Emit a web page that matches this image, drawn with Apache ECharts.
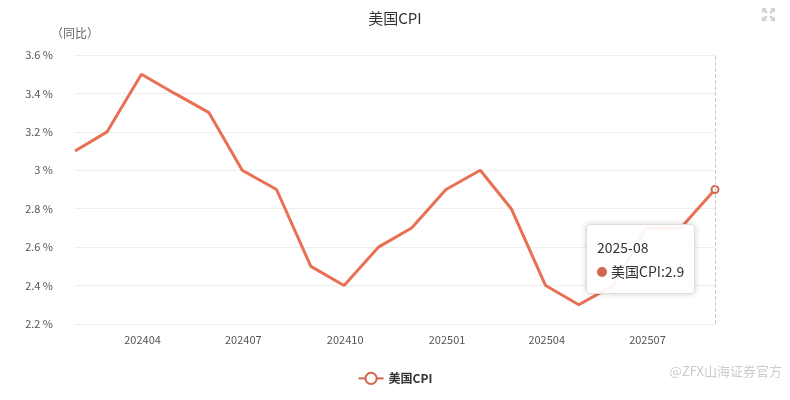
<!DOCTYPE html>
<html>
<head>
<meta charset="utf-8">
<script src="https://cdn.jsdelivr.net/npm/echarts@6/dist/echarts.min.js"></script>
<style>html,body{margin:0;padding:0;background:#fff;}#c{width:790px;height:400px;}</style>
</head>
<body>
<div id="c"></div>
<script>
var months = ['2024-01','2024-02','2024-03','2024-04','2024-05','2024-06','2024-07','2024-08','2024-09','2024-10','2024-11','2024-12','2025-01','2025-02','2025-03','2025-04','2025-05','2025-06','2025-07','2025-08'];
var cpiValues = [3.1,3.2,3.5,3.4,3.3,3.0,2.9,2.5,2.4,2.6,2.7,2.9,3.0,2.8,2.4,2.3,2.4,2.7,2.7,2.9];
var seriesName = '美国CPI';
var yTicks = {min: 2.2, max: 3.6, interval: 0.2};

function monthEnd(m) {
  var p = m.split('-');
  var d = new Date(+p[0], +p[1], 0);
  return p[0] + '-' + p[1] + '-' + String(d.getDate()).padStart(2, '0');
}
var seriesData = months.map(function (m, i) { return [monthEnd(m), cpiValues[i]]; });
function pad(n) { return String(n).padStart(2, '0'); }

var FONT = '"Noto Sans CJK SC", "Noto Sans", sans-serif';
var LINE = '#d3664e';
var chart = echarts.init(document.getElementById('c'), null, {renderer: 'canvas'});
chart.setOption({
  animation: false,
  textStyle: {fontFamily: FONT},
  title: {
    text: '美国CPI', left: 'center', top: 6,
    textStyle: {fontSize: 15, fontWeight: 'normal', color: '#333', fontFamily: FONT}
  },
  toolbox: {
    right: 0, top: -7, itemSize: 13,
    iconStyle: {color: '#cfcfcf', borderColor: '#cfcfcf', borderWidth: 0},
    feature: {
      myFull: {
        show: true, title: '',
        icon: 'path://M0,0L6,0L4,2L7,5L5,7L2,4L0,6Z M16,0L16,6L14,4L11,7L9,5L12,2L10,0Z M0,16L0,10L2,12L5,9L7,11L4,14L6,16Z M16,16L10,16L12,14L9,11L11,9L14,12L16,10Z',
        onclick: function () {}
      }
    }
  },
  legend: {
    bottom: 10, left: 'center', itemWidth: 25, itemHeight: 14,
    data: [seriesName],
    textStyle: {color: '#333', fontSize: 12, fontWeight: 'bold', fontFamily: FONT}
  },
  grid: {left: 75, right: 75, top: 55, bottom: 76},
  tooltip: {
    trigger: 'axis',
    transitionDuration: 0,
    backgroundColor: 'rgba(255,255,255,0.92)',
    borderColor: '#ddd', borderWidth: 1, padding: [10, 10],
    extraCssText: 'box-shadow: 0 0 6px rgba(0,0,0,0.18); border-radius: 4px;',
    textStyle: {color: '#333', fontSize: 14, fontFamily: FONT},
    axisPointer: {type: 'line', lineStyle: {color: '#ccc', type: 'dashed', width: 1}},
    position: function (point) { return [point[0] - 129, point[1] + 34]; },
    formatter: function (params) {
      var p = params[0];
      var d = new Date(p.value[0]);
      var head = d.getFullYear() + '-' + pad(d.getMonth() + 1);
      return '<div style="line-height:24px">' + head + '</div>' +
        '<div style="line-height:24px">' + p.marker + p.seriesName + ':' + p.value[1] + '</div>';
    }
  },
  xAxis: {
    type: 'time',
    min: seriesData[0][0],
    max: seriesData[seriesData.length - 1][0],
    minInterval: 80 * 86400000,
    maxInterval: 100 * 86400000,
    axisLine: {lineStyle: {color: '#eee'}},
    axisTick: {show: false},
    splitLine: {show: false},
    axisLabel: {
      color: '#555', fontSize: 11, margin: 10,
      showMinLabel: false, showMaxLabel: false,
      formatter: function (v) { var d = new Date(v); return d.getFullYear() + pad(d.getMonth() + 1); },
      rich: {}
    }
  },
  yAxis: {
    type: 'value',
    min: yTicks.min, max: yTicks.max, interval: yTicks.interval,
    name: '（同比）',
    nameLocation: 'end', nameGap: 16,
    nameTextStyle: {color: '#666', fontSize: 12, align: 'center'},
    axisLine: {show: false},
    axisTick: {show: false},
    axisLabel: {color: '#555', fontSize: 11, margin: 22, formatter: function (v) { return (+v.toFixed(1)) + ' %'; }},
    splitLine: {lineStyle: {color: '#eee'}}
  },
  graphic: [{
    type: 'text', right: 8, bottom: 22,
    style: {text: '@ZFX山海证券官方', fill: 'rgba(160,160,160,0.55)', fontSize: 13, fontFamily: FONT}
  }],
  series: [{
    name: seriesName, type: 'line',
    data: seriesData,
    symbol: 'emptyCircle', symbolSize: 7, showSymbol: false,
    itemStyle: {color: LINE},
    lineStyle: {color: LINE, width: 3},
    emphasis: {scale: false}
  }]
});
setTimeout(function () {
  chart.dispatchAction({type: 'showTip', seriesIndex: 0, dataIndex: cpiValues.length - 1});
}, 50);
</script>
</body>
</html>
